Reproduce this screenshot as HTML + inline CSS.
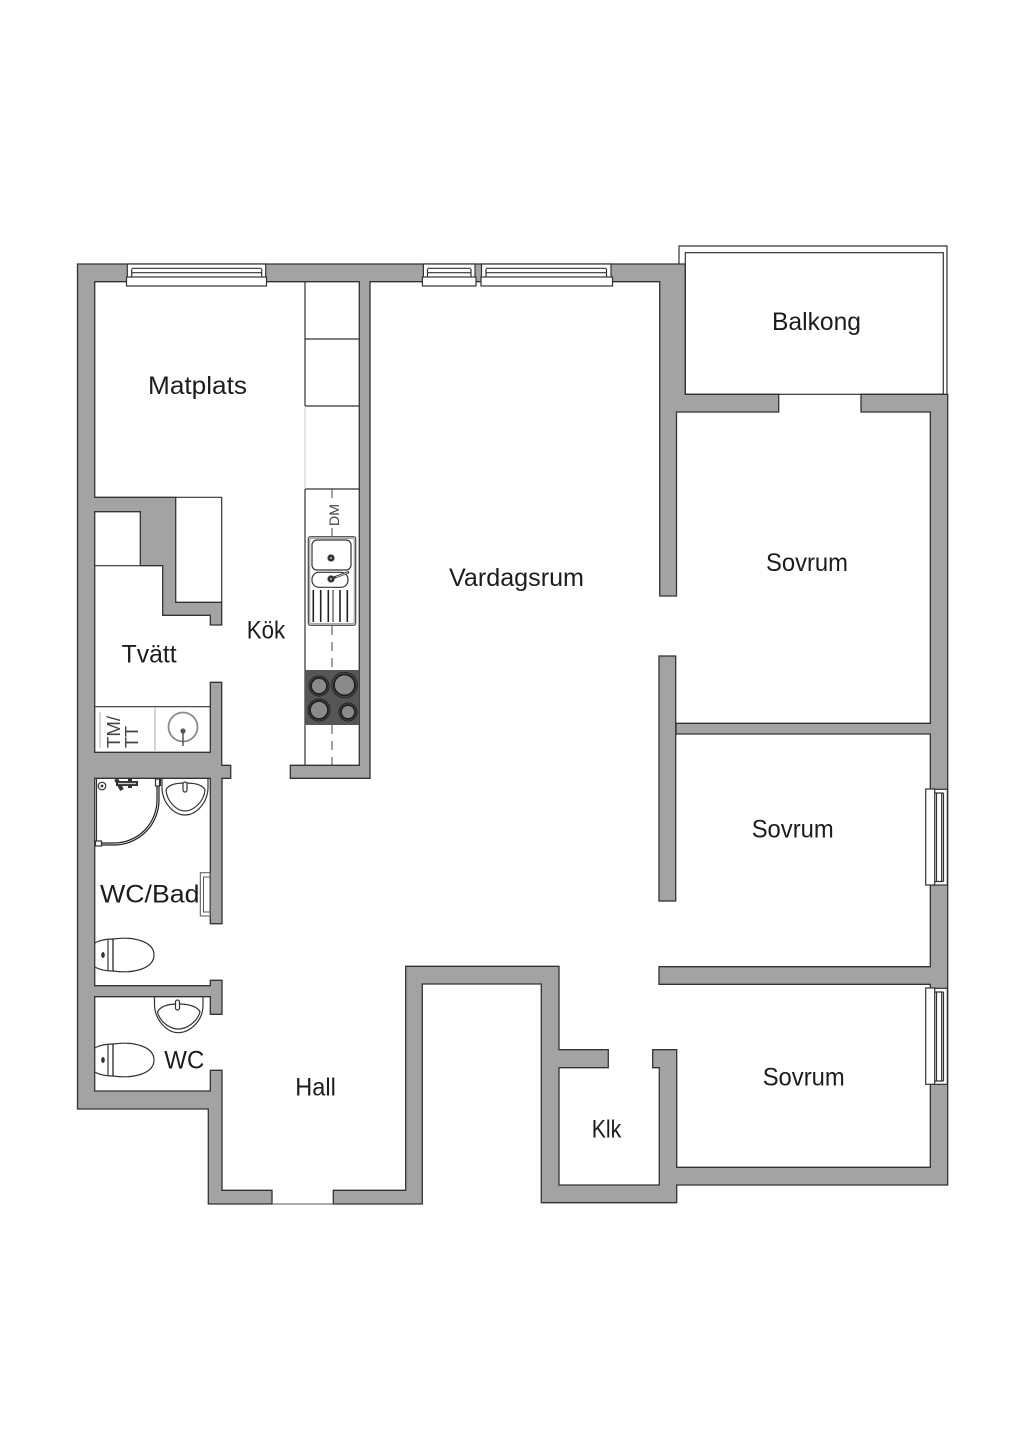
<!DOCTYPE html>
<html><head><meta charset="utf-8"><style>
html,body{margin:0;padding:0;background:#fff}
svg{display:block}
text{font-family:"Liberation Sans",sans-serif;font-size:24.6px;fill:#1c1c1c}
.w{fill:#a3a3a3;stroke:#333;stroke-width:1.3;stroke-linejoin:miter}
.l{fill:none;stroke:#333;stroke-width:1.2}
.f{fill:#fff;stroke:#333;stroke-width:1.2}
.g{fill:none;stroke:#555;stroke-width:1}
</style></head><body>
<svg width="1024" height="1449" viewBox="0 0 1024 1449" xmlns="http://www.w3.org/2000/svg">
<rect width="1024" height="1449" fill="#fff"/>

<!-- balcony -->
<path class="l" d="M679,264V246H947V394.3"/>
<rect class="l" x="685.3" y="252.7" width="258" height="141.6"/>

<!-- kitchen counter -->
<path class="l" d="M305,281.7V406M305,339H359.3M305,406H359.3M305,489H359.3M305,489V765.3"/>
<path d="M305,406V489" stroke="#ccc" stroke-width="1" fill="none"/>
<path d="M332,489V500M332,528V536M332,626V670M332,725V765" stroke="#444" stroke-width="1" stroke-dasharray="9 7" fill="none"/>

<!-- walls -->
<path class="w" d="M77.5,264H685.3V394.3H778.7V412H676.5V596H659.7V281.7H370V778.3H290.3V765.3H359.3V281.7H94.7V497.3H175.7V602.3H221.7V625H210.3V615.3H162.7V565.7H140.3V511.7H94.7V752.3H210.3V682.3H221.7V765.3H230.7V778.3H222V923.7H210.3V778.3H94.7V985.7H210.3V980.3H222V1014.3H210.3V996.7H94.7V1091H210.3V1070.3H222V1190.3H272V1204H208.3V1109H77.5Z"/>
<path class="w" d="M861,394.3H947.7V1185H676.7V1202.7H541.3V984H422.3V1204H333.3V1190.3H405.7V966.3H559V1049.7H608.3V1067.7H559V1185H659.3V1067.7H652.7V1049.7H676.7V1167.3H930.3V984.3H659V966.7H930.3V734H676V723.3H930.3V412H861Z"/>
<rect class="w" x="659" y="656" width="16.7" height="245"/>
<path d="M272,1204H333.3" stroke="#555" stroke-width="1"/>
<path d="M685.3,264V394.3" stroke="#333" stroke-width="1.3"/>

<!-- cabinet / tvätt fixtures -->
<path class="l" d="M175.7,497.3H221.7V602.3"/>
<path class="l" d="M94.7,565.7H140.3"/>
<path class="l" d="M94.7,706.7H210.3"/>
<path d="M155,707V752" stroke="#bbb" stroke-width="1.2"/>
<path d="M100,712V748" stroke="#bbb" stroke-width="1.2"/>
<circle cx="183" cy="727" r="14.5" fill="none" stroke="#8a8a8a" stroke-width="1.8"/>
<circle cx="183" cy="731" r="2.6" fill="#555"/>
<path d="M183,731V746" stroke="#555" stroke-width="1.5"/>
<text transform="translate(120,748) rotate(-90)" style="font-size:18px;fill:#444" textLength="32" lengthAdjust="spacingAndGlyphs">TM/</text>
<text transform="translate(138,748) rotate(-90)" style="font-size:18px;fill:#444" textLength="22" lengthAdjust="spacingAndGlyphs">TT</text>

<!-- DM -->
<text transform="translate(339,526) rotate(-90)" style="font-size:14px;fill:#444" textLength="22" lengthAdjust="spacingAndGlyphs">DM</text>

<!-- sink -->
<rect x="308.3" y="536.7" width="47.4" height="88.6" rx="2" fill="#fff" stroke="#444" stroke-width="1.2"/>
<rect x="309.8" y="538.2" width="44.4" height="85.6" rx="1.5" fill="none" stroke="#777" stroke-width=".8"/>
<rect x="312" y="540" width="39" height="30" rx="5" class="f"/>
<rect x="312" y="572.3" width="36" height="15" rx="7" class="f"/>
<circle cx="331" cy="558" r="3.6" fill="#333"/><circle cx="331" cy="558" r="1.2" fill="#999"/>
<circle cx="331" cy="579" r="3.6" fill="#333"/><circle cx="331" cy="579" r="1.2" fill="#999"/>
<path d="M333,578L349,572" stroke="#333" stroke-width="2.4"/><path d="M336,577L348,572.5" stroke="#ddd" stroke-width=".9"/>
<path d="M313.3,590V622M320.7,590V622M328.3,590V622M340,590V622M347.3,590V622" stroke="#222" stroke-width="1.6"/>
<path d="M333,590V622" stroke="#777" stroke-width="1.6"/>

<!-- hob -->
<rect x="305" y="670" width="54.3" height="55" fill="#565656"/>
<g fill="#8a8a8a" stroke="#1e1e1e" stroke-width="1.8">
<circle cx="319" cy="686" r="8"/><circle cx="344.5" cy="685" r="10.5"/><circle cx="319" cy="710" r="9"/><circle cx="348" cy="712" r="7"/>
</g>
<g fill="none" stroke="#222" stroke-width="1">
<circle cx="319" cy="686" r="10"/><circle cx="344.5" cy="685" r="12.7"/><circle cx="319" cy="710" r="11"/><circle cx="348" cy="712" r="9"/>
</g>

<!-- shower -->
<path class="l" d="M96.5,779V844"/>
<path d="M158,779V800A44,44 0 0 1 114,844H96" fill="none" stroke="#222" stroke-width="3.2"/>
<path d="M158,779V800A44,44 0 0 1 114,844H96" fill="none" stroke="#eee" stroke-width=".8"/>
<rect x="155.5" y="779" width="4" height="7" class="f" stroke-width=".8"/>
<rect x="95.5" y="841" width="6" height="5" class="f" stroke-width=".8"/>
<path class="l" d="M160.5,778.3V786"/>
<circle cx="102" cy="786" r="3.8" class="f"/><circle cx="102" cy="786" r="1.4" fill="#333"/>
<path d="M116,783.5H138" stroke="#333" stroke-width="5"/>
<path d="M116,779L122,790M130,778V788" stroke="#333" stroke-width="4"/>
<path d="M118,783.5H136" stroke="#ccc" stroke-width="1.2"/>

<!-- bath sink -->
<path class="l" d="M162,778.3V787C162,803 174,815 185,815C196,815 208,803 208,787V778.3"/>
<path class="l" d="M166,790C167,802 177,811 185,811C193,811 204,802 205,790C203,785 195,783 185,783C175,783 168,785 166,790Z"/>
<rect x="183" y="782" width="4" height="10" rx="2" class="f"/>

<!-- towel rail -->
<rect class="g" x="200.3" y="872.7" width="10" height="43.3"/>
<rect class="g" x="203.5" y="877" width="6.8" height="35"/>

<!-- toilet 1 -->
<path class="l" d="M113,939C135,936 154,942 154,955C154,968 135,974 113,971Z"/>
<path class="l" d="M94.7,943C100,940 106,939 113,939V971C106,971 100,970 94.7,967"/>
<path class="l" d="M108,940V970"/>
<ellipse cx="103" cy="955" rx="1.8" ry="3" fill="#333"/>

<!-- WC sink -->
<path class="l" d="M154.5,996.7V1005C155,1021 168,1032.7 178,1032.7C190,1032.7 203,1021 203,1005V996.7"/>
<path class="l" d="M157.5,1012C160,1022 170,1029 178,1029C187,1029 197,1022 200,1012C198,1007 190,1004 178,1004C166,1004 160,1007 157.5,1012Z"/>
<rect x="175.5" y="1000" width="4" height="10" rx="2" class="f"/>

<!-- toilet 2 -->
<path class="l" d="M113,1044C135,1041 154,1047 154,1060C154,1073 135,1079 113,1076Z"/>
<path class="l" d="M94.7,1048C100,1045 106,1044 113,1044V1076C106,1076 100,1075 94.7,1072"/>
<path class="l" d="M108,1045V1075"/>
<ellipse cx="103" cy="1060" rx="1.8" ry="3" fill="#333"/>

<!-- windows top -->
<g>
<rect class="f" x="127.3" y="264" width="138.4" height="17.7"/>
<rect class="f" x="126.5" y="277" width="140" height="9"/>
<path class="l" d="M131.7,269V277M261.7,269V277M131.7,268.3H261.7M131.7,272.7H261.7"/>
<rect class="f" x="423.4" y="264" width="51.6" height="17.7"/>
<rect class="f" x="422.4" y="277" width="53.6" height="9"/>
<path class="l" d="M427.5,269V277M471,269V277M427.5,268.3H471M427.5,272.7H471"/>
<rect class="f" x="481.5" y="264" width="129.5" height="17.7"/>
<rect class="f" x="481" y="277" width="131.5" height="9"/>
<path class="l" d="M486,269V277M606.5,269V277M486,268.3H606.5M486,272.7H606.5"/>
</g>

<!-- windows right -->
<g>
<rect class="f" x="930.3" y="789.3" width="17" height="95.7"/>
<rect class="f" x="925.7" y="789" width="9" height="96"/>
<path class="l" d="M934.7,793H943.5M934.7,881.5H943.5M936.5,793V881.5M941.7,793V881.5M943.5,793V881.5"/>
<rect class="f" x="930.3" y="988.3" width="17" height="96"/>
<rect class="f" x="925.7" y="988" width="9" height="96.3"/>
<path class="l" d="M934.7,992H943.5M934.7,1081H943.5M936.5,992V1081M941.7,992V1081M943.5,992V1081"/>
</g>

<!-- labels -->
<text x="148" y="394" textLength="99" lengthAdjust="spacingAndGlyphs">Matplats</text>
<text x="772" y="330" textLength="89" lengthAdjust="spacingAndGlyphs">Balkong</text>
<text x="449" y="586" textLength="135" lengthAdjust="spacingAndGlyphs">Vardagsrum</text>
<text x="766" y="571" textLength="82" lengthAdjust="spacingAndGlyphs">Sovrum</text>
<text x="751.7" y="837.3" textLength="82" lengthAdjust="spacingAndGlyphs">Sovrum</text>
<text x="762.7" y="1085.7" textLength="82" lengthAdjust="spacingAndGlyphs">Sovrum</text>
<text x="246.7" y="638.3" textLength="38.5" lengthAdjust="spacingAndGlyphs">Kök</text>
<text x="121.7" y="662.7" textLength="55" lengthAdjust="spacingAndGlyphs">Tvätt</text>
<text x="100" y="902.7" textLength="99.5" lengthAdjust="spacingAndGlyphs">WC/Bad</text>
<text x="164.3" y="1068.3" textLength="40" lengthAdjust="spacingAndGlyphs">WC</text>
<text x="295.3" y="1095.7" textLength="40.5" lengthAdjust="spacingAndGlyphs">Hall</text>
<text x="591.7" y="1137.3" textLength="29.5" lengthAdjust="spacingAndGlyphs">Klk</text>
</svg>
</body></html>
